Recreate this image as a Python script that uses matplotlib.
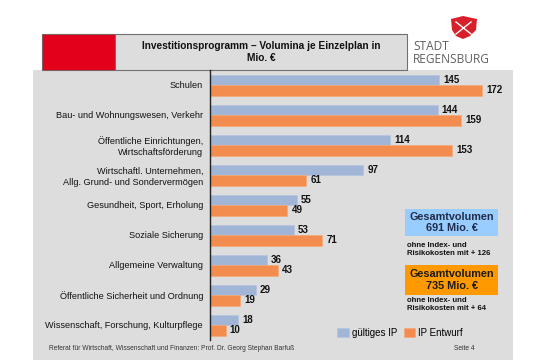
import numpy as np
import matplotlib
matplotlib.use("Agg")
import matplotlib.pyplot as plt
from matplotlib.patches import Rectangle, Polygon

plt.rcParams['font.family'] = ['Liberation Sans', 'DejaVu Sans']

categories = [
    "Schulen",
    "Bau- und Wohnungswesen, Verkehr",
    "Öffentliche Einrichtungen,\nWirtschaftsförderung",
    "Wirtschaftl. Unternehmen,\nAllg. Grund- und Sondervermögen",
    "Gesundheit, Sport, Erholung",
    "Soziale Sicherung",
    "Allgemeine Verwaltung",
    "Öffentliche Sicherheit und Ordnung",
    "Wissenschaft, Forschung, Kulturpflege",
]
gueltig = [145, 144, 114, 97, 55, 53, 36, 29, 18]
entwurf = [172, 159, 153, 61, 49, 71, 43, 19, 10]
series_names = ["gültiges IP", "IP Entwurf"]

W, H = 545, 360
fig = plt.figure(figsize=(W / 100, H / 100), dpi=100)
fig.patch.set_facecolor("white")

def fx(px):
    return px / W

def fy(py):
    return 1 - py / H

# gray slide panel
fig.patches.append(Rectangle((fx(33), 0), fx(513) - fx(33), fy(69.5),
                             transform=fig.transFigure, facecolor="#dddddd",
                             edgecolor="none", zorder=-5))
# title boxes
fig.patches.append(Rectangle((fx(42), fy(70)), fx(115) - fx(42), fy(34) - fy(70),
                             transform=fig.transFigure, facecolor="#e2001a",
                             edgecolor="#7a6060", lw=0.8, zorder=1))
fig.patches.append(Rectangle((fx(115), fy(70)), fx(407) - fx(115), fy(34) - fy(70),
                             transform=fig.transFigure, facecolor="#dddddd",
                             edgecolor="#707070", lw=0.8, zorder=1))
fig.text(fx(261), fy(52), "Investitionsprogramm – Volumina je Einzelplan in\nMio. €",
         ha="center", va="center", fontsize=7.3, fontweight="bold",
         linespacing=1.25, color="#111111")

# logo
fig.text(fx(413), fy(53), "STADT\nREGENSBURG", ha="left", va="center",
         fontsize=8.6, color="#606060", linespacing=1.0, family="Open Sans")
shield = Polygon([(fx(451), fy(19)), (fx(463), fy(16)), (fx(477), fy(19)),
                  (fx(476), fy(30)), (fx(470), fy(36)), (fx(463), fy(39)),
                  (fx(456), fy(36)), (fx(452), fy(30))],
                 closed=True, transform=fig.transFigure, facecolor="#d8202a",
                 edgecolor="none")
fig.patches.append(shield)
fig.lines.append(plt.Line2D([fx(456), fx(471)], [fy(22), fy(34)],
                            transform=fig.transFigure, color="white", lw=1.0))
fig.lines.append(plt.Line2D([fx(471), fx(456)], [fy(22), fy(34)],
                            transform=fig.transFigure, color="white", lw=1.0))

# chart
ax = fig.add_axes([fx(210), fy(340), fx(513) - fx(210), fy(70) - fy(340)])
ax.set_zorder(2)
ax.set_facecolor("none")
y = np.arange(len(categories))
h = 0.35
b1 = ax.barh(y - h / 2, gueltig, height=h, color="#a1b5d7",
             edgecolor="#b4c4df", lw=0.5, label=series_names[0])
b2 = ax.barh(y + h / 2, entwurf, height=h, color="#f28d4f",
             edgecolor="#f5a878", lw=0.5, label=series_names[1])
for bars, vals in ((b1, gueltig), (b2, entwurf)):
    for bar, v in zip(bars, vals):
        ax.text(v + 2.5, bar.get_y() + bar.get_height() / 2, str(v),
                ha="left", va="center", fontsize=7, fontweight="bold",
                color="#111111")
ax.set_xlim(0, 191.6)
ax.set_ylim(8.5, -0.5)
ax.set_yticks(y)
ax.set_yticklabels(categories, fontsize=6.6, color="#111111", linespacing=1.25)
ax.tick_params(axis="y", length=0, pad=5)
ax.set_xticks([])
for s in ("top", "right", "bottom"):
    ax.spines[s].set_visible(False)
ax.spines["left"].set_color("#222222")
ax.spines["left"].set_linewidth(1.0)

ax_w = fx(513) - fx(210)
ax_h = fy(70) - fy(340)
ax.legend(loc="center left",
          bbox_to_anchor=((fx(337) - fx(210)) / ax_w, (fy(333) - fy(340)) / ax_h),
          ncol=2, frameon=False, fontsize=7, handlelength=1.2, handleheight=1.0,
          handletextpad=0.3, columnspacing=0.7, borderpad=0, borderaxespad=0)

# summary boxes
fig.patches.append(Rectangle((fx(405), fy(236)), fx(498) - fx(405), fy(209) - fy(236),
                             transform=fig.transFigure, facecolor="#99ccff",
                             edgecolor="none"))
fig.text(fx(451.5), fy(222.5), "Gesamtvolumen\n691 Mio. €", ha="center", va="center",
         fontsize=7.8, fontweight="bold", color="#1f2d4a", linespacing=1.2)
fig.text(fx(407), fy(249.5), "ohne Index- und\nRisikokosten mit + 126", ha="left",
         va="center", fontsize=5.6, fontweight="bold", color="#111111",
         linespacing=1.2)
fig.patches.append(Rectangle((fx(405), fy(295)), fx(498) - fx(405), fy(265) - fy(295),
                             transform=fig.transFigure, facecolor="#ff9900",
                             edgecolor="none"))
fig.text(fx(451.5), fy(280), "Gesamtvolumen\n735 Mio. €", ha="center", va="center",
         fontsize=7.8, fontweight="bold", color="#1a1a1a", linespacing=1.2)
fig.text(fx(407), fy(304.5), "ohne Index- und\nRisikokosten mit + 64", ha="left",
         va="center", fontsize=5.6, fontweight="bold", color="#111111",
         linespacing=1.2)

# footer
fig.text(fx(49), fy(348.5), "Referat für Wirtschaft, Wissenschaft und Finanzen: Prof. Dr. Georg Stephan Barfuß",
         ha="left", va="center", fontsize=4.75, color="#333333")
fig.text(fx(475), fy(348.5), "Seite 4", ha="right", va="center", fontsize=4.75,
         color="#333333")

fig.savefig("out.png", dpi=100, facecolor="white")
